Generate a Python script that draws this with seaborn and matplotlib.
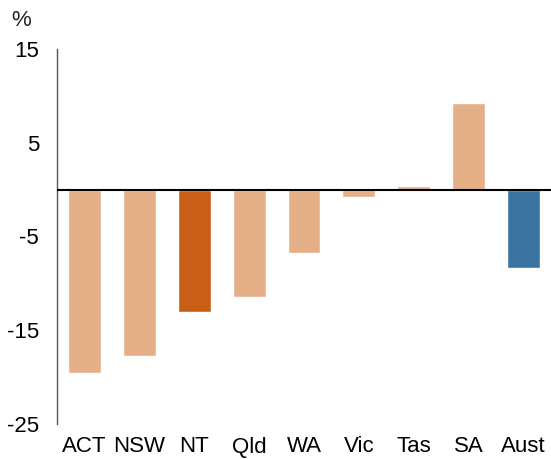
import pandas as pd
import seaborn as sns
import matplotlib.pyplot as plt

# Data
states = ["ACT", "NSW", "NT", "Qld", "WA", "Vic", "Tas", "SA", "Aust"]
change = [-19.6, -17.7, -13.1, -11.4, -6.8, -0.8, 0.4, 9.2, -8.4]
bar_colors = ["#E5AF88", "#E5AF88", "#C95F17", "#E5AF88", "#E5AF88",
              "#E5AF88", "#E5AF88", "#E5AF88", "#3A72A0"]
y_ticks = [15, 5, -5, -15, -25]

df = pd.DataFrame({"state": states, "change": change})

sns.set_style("white")
plt.rcParams["font.family"] = ["Liberation Sans", "DejaVu Sans"]

fig = plt.figure(figsize=(5.51, 4.59), dpi=100)
ax = fig.add_axes([57 / 551, 1 - 424 / 459, 1 - 57 / 551, 375 / 459])

sns.barplot(data=df, x="state", y="change", hue="state",
            palette=bar_colors, legend=False, width=0.6,
            saturation=1, ax=ax)

ax.set_ylim(-25, 15)
ax.set_xlim(-0.5, 8.5)
ax.set_yticks(y_ticks)
ax.set_yticklabels([str(t) for t in y_ticks])
ax.axhline(0, color="black", lw=1.5, zorder=3)

for s in ["top", "right", "bottom"]:
    ax.spines[s].set_visible(False)
ax.spines["left"].set_color("#555555")
ax.spines["left"].set_linewidth(1)

ax.tick_params(axis="both", length=0, labelsize=16, colors="black")
ax.tick_params(axis="y", pad=13)
ax.tick_params(axis="x", pad=9)
ax.set_xlabel("")
ax.set_ylabel("")

fig.text(11 / 551, 1 - 21 / 459, "%", fontsize=16, va="center", ha="left")

plt.savefig("out.png", dpi=100)
